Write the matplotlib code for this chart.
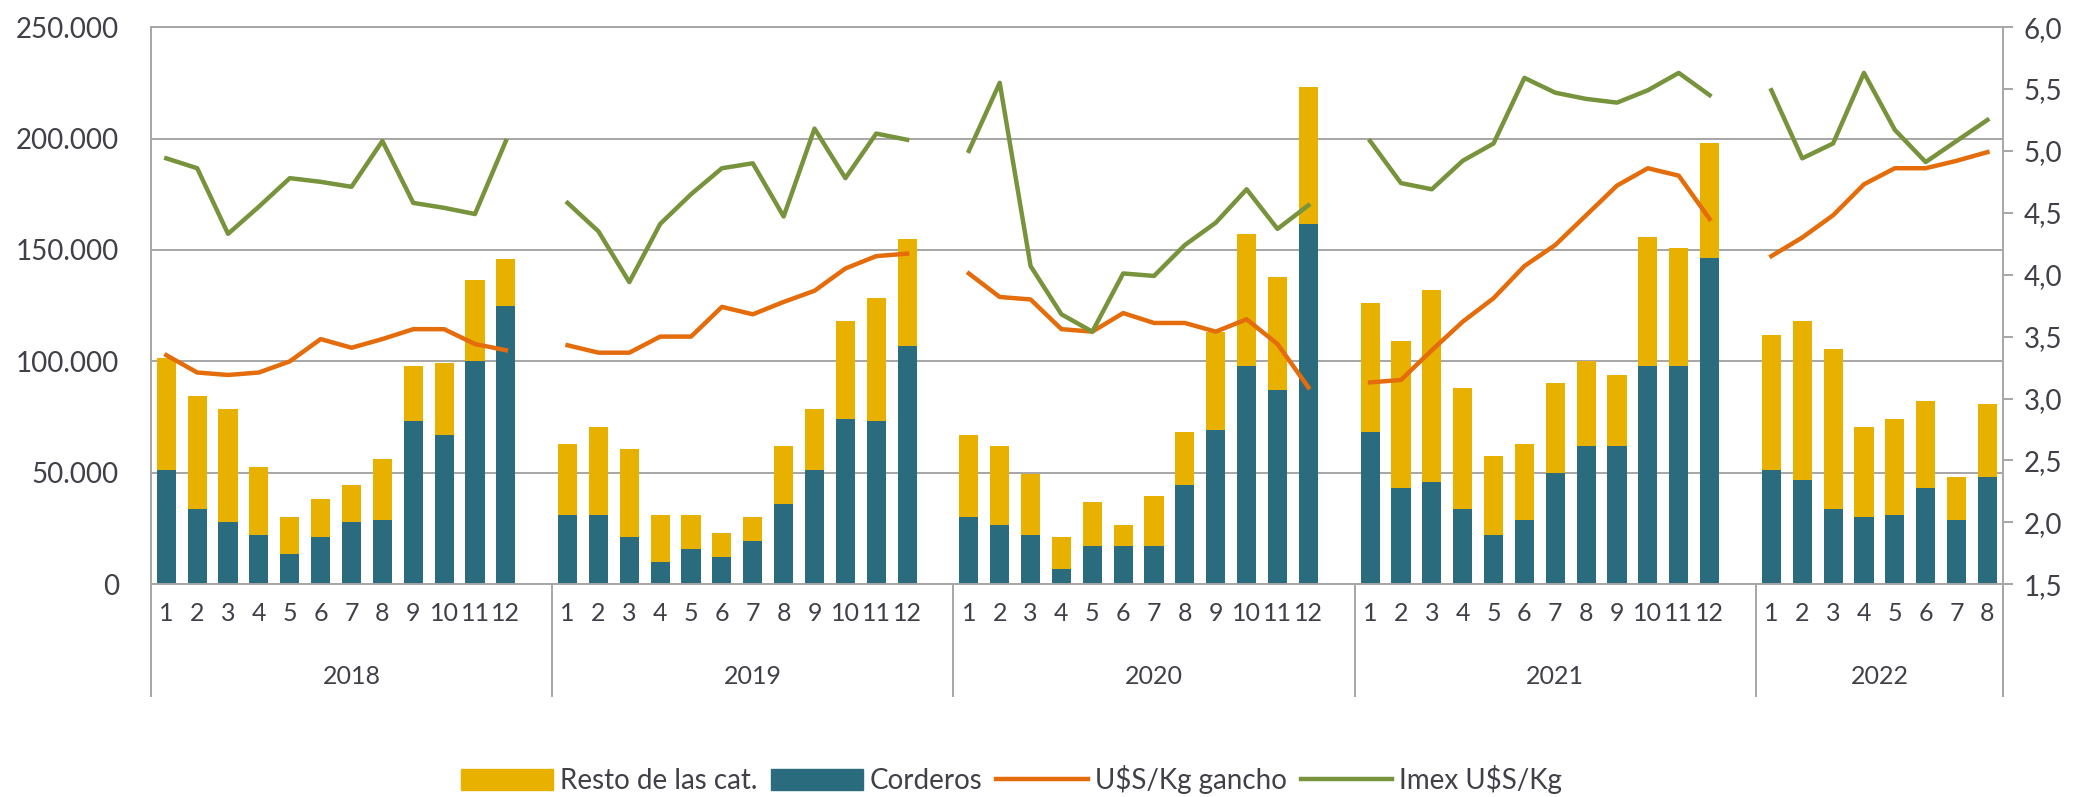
import numpy as np
import matplotlib
matplotlib.use("Agg")
import matplotlib.pyplot as plt
from matplotlib.patches import Patch
from matplotlib.lines import Line2D

# datos (cabezas faenadas y precios)
years = ["2018", "2019", "2020", "2021", "2022"]
months_per_year = [12, 12, 12, 12, 8]

corderos = [51300, 33900, 27800, 22100, 13700, 21000, 27800, 28900, 73100, 67000, 100000, 124800,
            31200, 31200, 21000, 10000, 15900, 12300, 19600, 36200, 51300, 74000, 73100, 107000,
            30100, 26700, 22100, 6600, 17100, 17100, 17100, 44400, 69200, 97900, 87000, 161500,
            68100, 43300, 45800, 33900, 22100, 28900, 50100, 62000, 62000, 97900, 97900, 146200,
            51300, 46900, 33900, 30100, 31200, 43300, 28900, 48100]
resto = [50300, 50600, 50800, 30500, 16400, 17300, 16600, 27100, 24600, 32300, 36700, 21200,
         31900, 39200, 39800, 21200, 15300, 10500, 10500, 25800, 27300, 44000, 55400, 47700,
         36900, 35300, 27300, 14400, 19800, 9300, 22500, 23700, 43800, 59100, 50800, 61500,
         58100, 66000, 86100, 54300, 35300, 34200, 40300, 38000, 31800, 57900, 52900, 52000,
         60500, 71100, 71800, 40300, 42800, 38900, 19200, 32800]
gancho = [3.35, 3.21, 3.19, 3.21, 3.30, 3.48, 3.41, 3.48, 3.56, 3.56, 3.44, 3.39,
          3.43, 3.37, 3.37, 3.50, 3.50, 3.74, 3.68, 3.78, 3.87, 4.05, 4.15, 4.17,
          4.01, 3.82, 3.80, 3.56, 3.54, 3.69, 3.61, 3.61, 3.54, 3.64, 3.44, 3.09,
          3.13, 3.15, 3.39, 3.62, 3.81, 4.07, 4.24, 4.48, 4.72, 4.86, 4.80, 4.45,
          4.15, 4.30, 4.48, 4.73, 4.86, 4.86, 4.92, 4.99]
imex = [4.94, 4.86, 4.33, 4.55, 4.78, 4.75, 4.71, 5.08, 4.58, 4.54, 4.49, 5.08,
        4.58, 4.35, 3.94, 4.41, 4.65, 4.86, 4.90, 4.47, 5.18, 4.78, 5.14, 5.09,
        5.00, 5.55, 4.07, 3.68, 3.54, 4.01, 3.99, 4.24, 4.42, 4.69, 4.37, 4.56,
        5.08, 4.74, 4.69, 4.92, 5.06, 5.59, 5.47, 5.42, 5.39, 5.49, 5.63, 5.45,
        5.49, 4.94, 5.06, 5.63, 5.17, 4.91, 5.08, 5.25]

left_ticks = [0, 50000, 100000, 150000, 200000, 250000]
left_labels = ["0", "50.000", "100.000", "150.000", "200.000", "250.000"]
right_ticks = [1.5, 2.0, 2.5, 3.0, 3.5, 4.0, 4.5, 5.0, 5.5, 6.0]
right_labels = ["1,5", "2,0", "2,5", "3,0", "3,5", "4,0", "4,5", "5,0", "5,5", "6,0"]

plt.rcParams['font.family'] = ['Lato', 'DejaVu Sans']
txt = "#404048"
grid_c = "#A6A6A6"
c_cord = "#2A6C7E"
c_resto = "#E8B100"
c_gancho = "#E46C0A"
c_imex = "#77933C"

# posiciones: un hueco vacio despues de cada año
pos = []
month_lab = []
start = 0
bounds = [-0.5]
for n in months_per_year:
    pos += list(range(start, start + n))
    month_lab += [str(m) for m in range(1, n + 1)]
    start += n + 1
    bounds.append(start - 0.5)
bounds[-1] = pos[-1] + 0.5
nslots = pos[-1] + 1

# lineas con cortes entre años
g_line = np.full(nslots, np.nan)
i_line = np.full(nslots, np.nan)
g_line[pos] = gancho
i_line[pos] = imex

fig = plt.figure(figsize=(20.9, 7.97), dpi=100)
ax = fig.add_axes([0.0722, 0.267, 0.8861, 0.699])

ax.bar(pos, corderos, width=0.62, color=c_cord, zorder=2)
ax.bar(pos, resto, width=0.62, bottom=corderos, color=c_resto, zorder=2)

ax.set_xlim(-0.5, nslots - 0.5)
ax.set_ylim(0, 250000)
ax.set_yticks(left_ticks)
ax.set_yticklabels(left_labels)
ax.yaxis.grid(True, color=grid_c, lw=1.4, zorder=0)
ax.set_axisbelow(True)
ax.tick_params(axis='y', length=0, pad=23, labelsize=20, labelcolor=txt)
ax.set_xticks(pos)
ax.set_xticklabels(month_lab)
ax.tick_params(axis='x', length=0, pad=13, labelsize=18, labelcolor=txt)
for s in ['left', 'bottom', 'top']:
    ax.spines[s].set_color(grid_c)
    ax.spines[s].set_linewidth(1.4)
ax.spines['right'].set_visible(False)

# separadores y etiquetas de año
tr = ax.get_xaxis_transform()
for b in bounds:
    ax.plot([b, b], [0, -0.2], transform=tr, color=grid_c, lw=1.4, clip_on=False)
for k, y in enumerate(years):
    ax.text((bounds[k] + bounds[k + 1]) / 2, -0.165, y, transform=tr,
            ha='center', va='center', fontsize=18, color=txt)

ax2 = ax.twinx()
ax2.plot(range(nslots), g_line, color=c_gancho, lw=3.2)
ax2.plot(range(nslots), i_line, color=c_imex, lw=3.2)
ax2.set_ylim(1.5, 6.0)
ax2.set_yticks(right_ticks)
ax2.set_yticklabels(right_labels)
ax2.tick_params(axis='y', length=7, width=1.4, color=grid_c, pad=8, labelsize=20, labelcolor=txt)
for s in ['left', 'bottom', 'top']:
    ax2.spines[s].set_visible(False)
ax2.spines['right'].set_color(grid_c)
ax2.spines['right'].set_linewidth(1.4)
ax2.plot([1, 1], [0, -0.2], transform=ax2.transAxes, color=grid_c, lw=1.4, clip_on=False)

handles = [Patch(color=c_resto), Patch(color=c_cord),
           Line2D([], [], color=c_gancho, lw=3.2), Line2D([], [], color=c_imex, lw=3.2)]
labels = ["Resto de las cat.", "Corderos", r"U\$S/Kg gancho", r"Imex U\$S/Kg"]
fig.legend(handles, labels, loc='center', bbox_to_anchor=(0.484, 0.022), ncol=4,
           frameon=False, fontsize=20, labelcolor=txt, handlelength=3.3, handleheight=0.8,
           handletextpad=0.25, columnspacing=0.5)

fig.savefig("out.png", dpi=100)
